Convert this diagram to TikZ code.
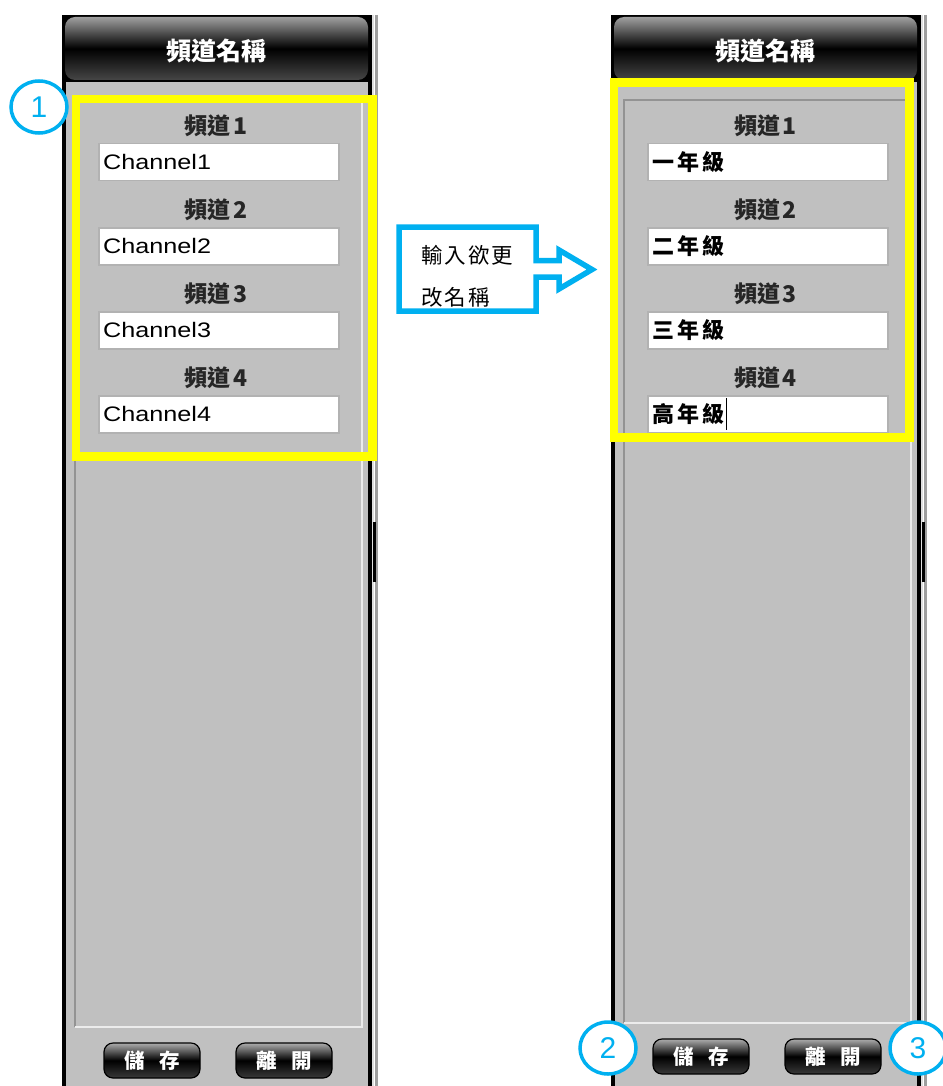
\documentclass[tikz,border=0pt]{standalone}
\usepackage{fontspec}
\setmainfont{Liberation Sans}
\newfontfamily\cjk{Noto Sans CJK TC}
\newfontfamily\chfont[FakeStretch=1.2]{Liberation Sans}
\usetikzlibrary{shapes.geometric}
\definecolor{panelgray}{HTML}{C0C0C0}
\definecolor{ylw}{HTML}{FFFF00}
\definecolor{cyanb}{HTML}{00B0F0}
\tikzset{
  hdrbox/.style={rounded corners=10pt, minimum width=303, minimum height=63, inner sep=0,
    top color=gray!75, bottom color=gray!55!black, middle color=black},
  hdrtext/.style={text=white, font=\cjk\bfseries\fontsize{25}{29}\selectfont, inner sep=0},
  chlabel/.style={text=black!85, font=\cjk\bfseries\fontsize{23}{27}\selectfont, inner sep=0},
  entrybox/.style={fill=white, draw=gray!60, line width=1.5pt, minimum width=240, minimum height=37,
    inner sep=0, anchor=north west},
  entrytext/.style={anchor=west, inner sep=0, text=black},
  btn/.style={rounded corners=9pt, minimum width=96, minimum height=35, inner sep=0,
    draw=black, line width=1.2pt, top color=gray!65, bottom color=gray!45!black, middle color=black,
    text=white, font=\cjk\bfseries\fontsize{20.5}{23}\selectfont},
  numcirc/.style={ellipse, minimum width=56, minimum height=52, inner sep=0, draw=cyanb,
    line width=3.5pt, fill=white, text=cyanb, font=\fontsize{30}{34}\selectfont},
  hilite/.style={draw=ylw, line width=8.5pt},
  callout/.style={draw=cyanb, line width=5.5pt, miter limit=10},
  callouttext/.style={anchor=west, inner sep=0, font=\cjk\fontsize{21.5}{24}\selectfont}
}
\newcommand\uientry[4]{%
  \node[chlabel] (#1lab#2) at (216.5,{126+84*(#2-1)}) {頻道\hspace{3pt}#2};
  \node[entrybox] (#1box#2) at (98,{143+84*(#2-1)}) {};
  \node[entrytext] (#1txt#2) at ([xshift=5pt]#1box#2.west) {#3#4};
}
\newcommand\uipanel[3]{%
  \begin{scope}[xshift=#2]
    \fill[black] (62,15) rectangle (372,1086);
    \fill[panelgray] (66,82) rectangle (368,1086);
    \draw[line width=2pt, white!75!gray] (373,15) -- (373,1086);
    \draw[line width=2.5pt, gray!75] (376.5,15) -- (376.5,1086);
    \fill[black] (372.5,522) rectangle (376,582);
    \draw[line width=1.2pt, gray!85] (75,#3+1027) -- (75,100) -- (362,100);
    \draw[line width=1.5pt, white!85!gray] (75,#3+1027) -- (362,#3+1027) -- (362,100);
    \node[hdrbox] (#1hdr) at (216.5,48.5) {};
    \node[hdrtext] (#1title) at (216.5,51) {頻道名稱};
    \node[btn] (#1save) at (152,#3+1060.5) {儲\hspace{15pt}存};
    \node[btn] (#1exit) at (284,#3+1060.5) {離\hspace{15pt}開};
  \end{scope}}
\begin{document}
\begin{tikzpicture}[x=1pt,y=-1pt]
  \useasboundingbox (0,0) rectangle (942,1086);
  \fill[white] (0,0) rectangle (942,1086);
  % left panel
  \uipanel{L}{0}{0}
  \uientry{L}{1}{\chfont\fontsize{21}{24}\selectfont}{Channel1}
  \uientry{L}{2}{\chfont\fontsize{21}{24}\selectfont}{Channel2}
  \uientry{L}{3}{\chfont\fontsize{21}{24}\selectfont}{Channel3}
  \uientry{L}{4}{\chfont\fontsize{21}{24}\selectfont}{Channel4}
  \draw[hilite] (76,99) rectangle (372.5,456.5);
  % right panel
  \uipanel{R}{549}{-4}
  \begin{scope}[xshift=549]
    \uientry{R}{1}{\cjk\bfseries\fontsize{22}{25}\selectfont}{一\hspace{3pt}年\hspace{3pt}級}
    \uientry{R}{2}{\cjk\bfseries\fontsize{22}{25}\selectfont}{二\hspace{3pt}年\hspace{3pt}級}
    \uientry{R}{3}{\cjk\bfseries\fontsize{22}{25}\selectfont}{三\hspace{3pt}年\hspace{3pt}級}
    \uientry{R}{4}{\cjk\bfseries\fontsize{22}{25}\selectfont}{高\hspace{3pt}年\hspace{3pt}級}
  \end{scope}
  \draw[line width=1.3pt] (Rtxt4.east) ++(2,-16) -- ++(0,32);
  \draw[hilite] (614,82.5) rectangle (909.5,437.5);
  % callout
  \draw[callout] (399,227) -- (536,227) -- (536,260.5) -- (559,260.5) -- (559,250)
     -- (592,269.5) -- (559,289) -- (559,277) -- (536,277) -- (536,311) -- (399,311) -- cycle;
  \node[callouttext] (ct1) at (421,255) {輸\hspace{2pt}入\hspace{2pt}欲\hspace{2pt}更};
  \node[callouttext] (ct2) at (421,297) {改\hspace{2pt}名\hspace{2pt}稱};
  % numbered markers
  \node[numcirc] (n1) at (39,107) {1};
  \node[numcirc] (n2) at (608,1048) {2};
  \node[numcirc] (n3) at (918,1048) {3};
\end{tikzpicture}
\end{document}
